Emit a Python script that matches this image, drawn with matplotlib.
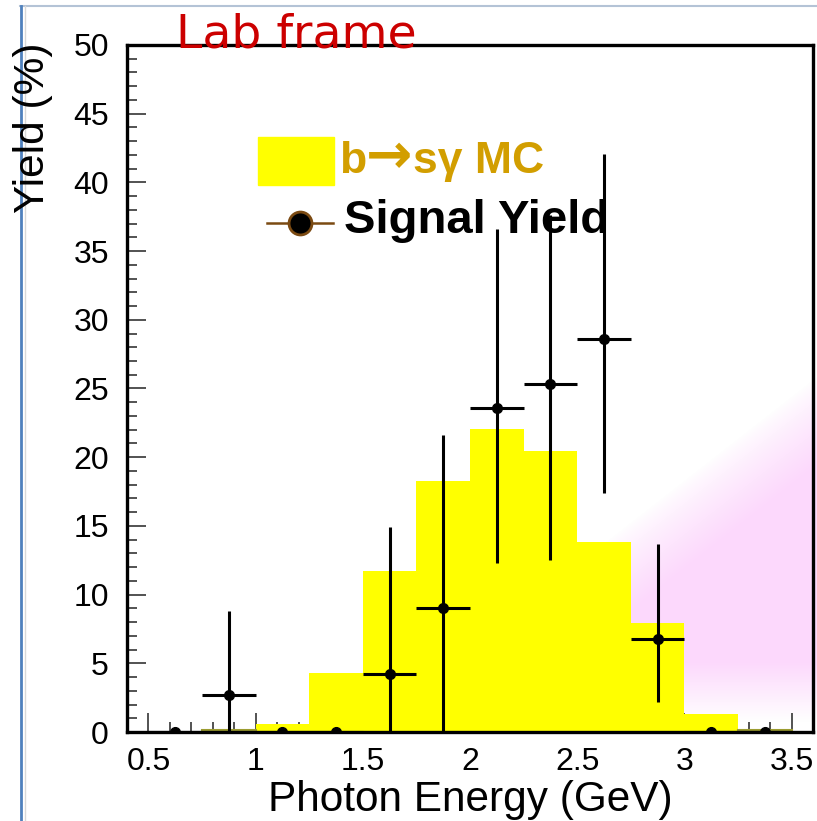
import numpy as np
import matplotlib
matplotlib.use("Agg")
import matplotlib.pyplot as plt
from matplotlib.patches import Rectangle
from matplotlib.lines import Line2D
from matplotlib.ticker import MultipleLocator

plt.rcParams['font.family'] = ['Liberation Sans', 'DejaVu Sans']

# ---- data ----
bin_edges = [0.5, 0.75, 1.0, 1.25, 1.5, 1.75, 2.0, 2.25, 2.5, 2.75, 3.0, 3.25, 3.5]
mc_yield = [0.0, 0.12, 0.56, 4.27, 11.7, 18.3, 22.05, 20.45, 13.8, 7.9, 1.31, 0.12]

sig_x = [0.625, 0.875, 1.125, 1.375, 1.625, 1.875, 2.125, 2.375, 2.625, 2.875, 3.125, 3.375]
sig_y = [0.0, 2.7, 0.0, 0.0, 4.2, 9.0, 23.6, 25.3, 28.6, 6.8, 0.0, 0.0]
sig_err_lo = [0.0, 2.7, 0.0, 0.0, 4.2, 9.0, 11.3, 12.8, 11.2, 4.6, 0.0, 0.0]
sig_err_hi = [0.0, 6.1, 0.0, 0.0, 10.7, 12.6, 13.0, 12.3, 13.5, 6.9, 0.0, 0.0]
sig_xerr = [0.125] * len(sig_x)

x_tick_labels = ['0.5', '1', '1.5', '2', '2.5', '3', '3.5']
x_ticks = [0.5, 1, 1.5, 2, 2.5, 3, 3.5]

W, H = 817, 821
fig = plt.figure(figsize=(W / 100, H / 100), dpi=100)

# background pink gradient (slide decoration)
bg = fig.add_axes([0, 0, 1, 1], zorder=-5)
bg.set_axis_off()
px, py = np.meshgrid(np.arange(W) + 0.5, np.arange(H) + 0.5)
d = ((px - 630) * 141 + (py - 523) * 180) / np.hypot(141, 180)
a1 = np.clip(d / 70.0, 0, 1) ** 0.8
a2 = np.clip((722 - py) / 60.0, 0, 1)
alpha = a1 * a2
img = np.zeros((H, W, 4))
img[..., 0] = 0.99
img[..., 1] = 0.85
img[..., 2] = 0.99
img[..., 3] = alpha
bg.imshow(img, extent=[0, W, H, 0], aspect='auto', interpolation='bilinear')
bg.set_xlim(0, W)
bg.set_ylim(H, 0)

# slide frame lines
fig.add_artist(Line2D([20 / W, 1], [1 - 6 / H, 1 - 6 / H], color='#B4C3D6', lw=1.5))
fig.add_artist(Line2D([21 / W, 21 / W], [0, 1 - 6 / H], color='#4F81BD', lw=2.0))
fig.add_artist(Line2D([25 / W, 25 / W], [0, 1 - 6 / H], color='#D8D8D8', lw=1.0))

ax = fig.add_axes([127 / W, (H - 732) / H, (813 - 127) / W, (732 - 45) / H])
ax.set_facecolor('none')
ax.set_axisbelow(True)

widths = np.diff(bin_edges)
ax.bar(bin_edges[:-1], mc_yield, width=widths, align='edge', color='#FFFF00',
       edgecolor='none', zorder=1)
for left, w, v in zip(bin_edges[:-1], widths, mc_yield):
    if 0 < v < 0.3:
        ax.plot([left, left + w], [v, v], color='#9C9C30', lw=1.5, zorder=1.5)

ax.errorbar(sig_x, sig_y, yerr=[sig_err_lo, sig_err_hi], xerr=sig_xerr,
            fmt='o', color='black', ms=7, elinewidth=2.2, capsize=0, zorder=3)

ax.set_xlim(0.4, 3.6)
ax.set_ylim(0, 50)
ax.xaxis.set_minor_locator(MultipleLocator(0.1))
ax.yaxis.set_major_locator(MultipleLocator(5))
ax.yaxis.set_minor_locator(MultipleLocator(1))
ax.set_xticks(x_ticks)
ax.set_xticklabels(x_tick_labels)
ax.tick_params(which='both', direction='in', top=False, right=False,
               width=1.3, color='#444444', labelsize=23)
ax.tick_params(which='major', length=13.5)
ax.tick_params(which='minor', length=7)
ax.tick_params(axis='y', pad=13)
ax.tick_params(axis='x', pad=11)
for s in ax.spines.values():
    s.set_linewidth(2.4)
    s.set_color('black')
    s.set_zorder(4)

# axis labels
fig.text(470 / W, 1 - 800 / H, 'Photon Energy (GeV)', fontsize=30.5,
         ha='center', va='center')
fig.text(33 / W, 1 - 128 / H, 'Yield (%)', fontsize=30.5, rotation=90,
         ha='center', va='center')

# title
fig.text(176 / W, 1 - 48 / H, 'Lab frame', fontsize=34, color='#CC0000',
         family='DejaVu Sans', ha='left', va='baseline', zorder=10)

# manual legend
def fx(p):
    return p / W

def fy(p):
    return 1 - p / H

fig.add_artist(Rectangle((fx(258), fy(185)), fx(334) - fx(258), fy(137) - fy(185),
                         transform=fig.transFigure, color='#FFFF00', zorder=5))

renderer = fig.canvas.get_renderer()
gold = '#D29E00'
pieces = [('b', {'fontsize': 32}),
          ('→', {'family': 'DejaVu Sans', 'fontsize': 40}),
          ('sγ MC', {'fontsize': 32})]
xcur = 339.0
for s, kw in pieces:
    t = fig.text(fx(xcur), fy(173), s, fontweight='bold', color=gold,
                 ha='left', va='baseline', zorder=6, **kw)
    bb = t.get_window_extent(renderer)
    xcur = bb.x1

fig.add_artist(Line2D([fx(267), fx(333)], [fy(223), fy(223)], transform=fig.transFigure,
                      color='#7B4A12', lw=1.8, zorder=5))
fig.add_artist(Line2D([fx(300)], [fy(223)], transform=fig.transFigure, marker='o',
                      ms=16.5, mfc='black', mec='#7B4A12', mew=2, zorder=6))
fig.text(fx(344), fy(233), 'Signal Yield', fontsize=34, fontweight='bold',
         color='black', ha='left', va='baseline', zorder=6)

fig.savefig('out.png', dpi=100)
